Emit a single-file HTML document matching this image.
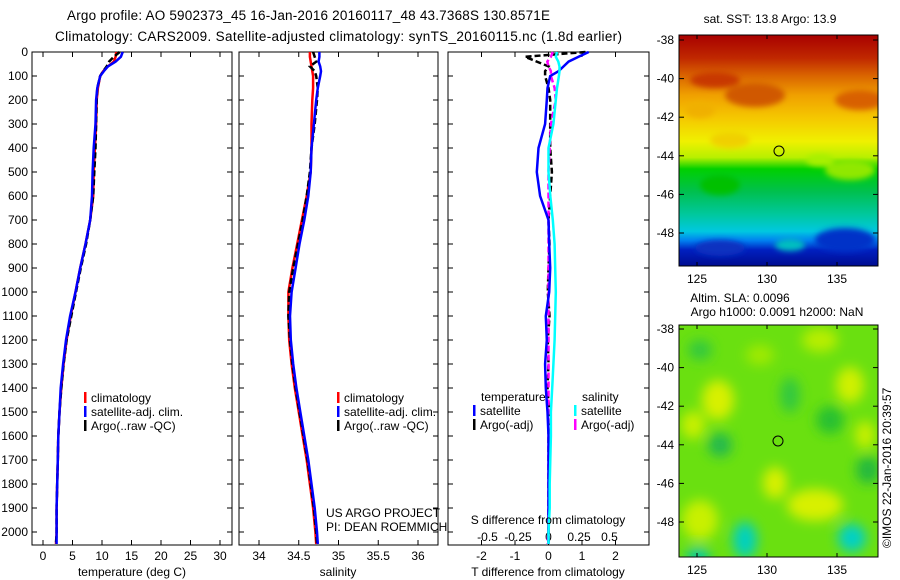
<!DOCTYPE html>
<html><head><meta charset="utf-8"><style>
body{margin:0;background:#fff;}
svg{display:block;font-family:"Liberation Sans",sans-serif;}
</style></head><body>
<svg id="fig" width="900" height="580" viewBox="0 0 900 580">
<defs>
<linearGradient id="sstGrad" x1="0" y1="0" x2="0" y2="1">
<stop offset="0" stop-color="#a80000"/><stop offset="0.1" stop-color="#c02800"/>
<stop offset="0.17" stop-color="#d86000"/><stop offset="0.26" stop-color="#f0a000"/>
<stop offset="0.36" stop-color="#f5c800"/><stop offset="0.46" stop-color="#f0f000"/>
<stop offset="0.53" stop-color="#b8f000"/><stop offset="0.58" stop-color="#00d000"/>
<stop offset="0.68" stop-color="#00c050"/><stop offset="0.78" stop-color="#00c8a0"/>
<stop offset="0.85" stop-color="#00c8e0"/><stop offset="0.89" stop-color="#0080f0"/>
<stop offset="0.93" stop-color="#0020c0"/><stop offset="1" stop-color="#000c90"/>
</linearGradient>
<filter id="blur6"><feGaussianBlur stdDeviation="6"/></filter>
<filter id="blur3"><feGaussianBlur stdDeviation="3"/></filter>
<clipPath id="clipTop"><rect x="679" y="35" width="199" height="231"/></clipPath>
<clipPath id="clipBot"><rect x="679" y="325" width="199" height="232"/></clipPath>
</defs>

<text x="67" y="20" font-size="13.5" textLength="483">Argo profile: AO 5902373_45 16-Jan-2016 20160117_48 43.7368S 130.8571E</text>
<text x="55" y="41" font-size="13.5" textLength="567">Climatology: CARS2009. Satellite-adjusted climatology: synTS_20160115.nc (1.8d earlier)</text>

<g id="p1"></g>
<g id="p2"></g>
<g id="p3"></g>

<g>
<text x="770" y="23" font-size="12" text-anchor="middle">sat. SST: 13.8 Argo: 13.9</text>
<g clip-path="url(#clipTop)">
<rect x="679" y="35" width="199" height="231" fill="url(#sstGrad)"/>
<g filter="url(#blur3)">
<ellipse cx="755" cy="95" rx="30" ry="12" fill="#d05800"/>
<ellipse cx="715" cy="80" rx="25" ry="8" fill="#c83800"/>
<ellipse cx="860" cy="100" rx="25" ry="10" fill="#d86000"/>
<ellipse cx="700" cy="110" rx="15" ry="8" fill="#f0b000"/>
<ellipse cx="730" cy="140" rx="20" ry="8" fill="#f0d000"/>
<ellipse cx="720" cy="185" rx="20" ry="10" fill="#00c000"/>
<ellipse cx="850" cy="170" rx="25" ry="10" fill="#90e800"/>
<ellipse cx="820" cy="160" rx="14" ry="6" fill="#a8f000"/>
<ellipse cx="720" cy="248" rx="25" ry="8" fill="#0830c0"/>
<ellipse cx="845" cy="240" rx="30" ry="12" fill="#0030c8"/>
<ellipse cx="790" cy="245" rx="15" ry="6" fill="#00c0c0"/>
</g>
</g>
<rect x="679" y="35" width="199" height="231" fill="none" stroke="#000"/>
<circle cx="779" cy="151" r="5" fill="none" stroke="#000"/>
</g>

<g>
<text x="740" y="302" font-size="12" text-anchor="middle">Altim. SLA: 0.0096</text>
<text x="777" y="316" font-size="12" text-anchor="middle">Argo h1000: 0.0091 h2000: NaN</text>
<g clip-path="url(#clipBot)">
<rect x="679" y="325" width="199" height="232" fill="#6ae010"/>
<g filter="url(#blur6)">
<ellipse cx="718" cy="400" rx="16" ry="20" fill="#d8f000"/>
<ellipse cx="850" cy="385" rx="14" ry="18" fill="#d0f000"/>
<ellipse cx="820" cy="340" rx="18" ry="12" fill="#b8ee00"/>
<ellipse cx="693" cy="425" rx="12" ry="14" fill="#c8f000"/>
<ellipse cx="775" cy="483" rx="12" ry="16" fill="#d8f000"/>
<ellipse cx="700" cy="520" rx="18" ry="20" fill="#c8f000"/>
<ellipse cx="815" cy="505" rx="28" ry="16" fill="#d8f000"/>
<ellipse cx="865" cy="435" rx="10" ry="14" fill="#c8f000"/>
<ellipse cx="760" cy="355" rx="14" ry="10" fill="#a0ea00"/>
<ellipse cx="720" cy="445" rx="12" ry="12" fill="#20b850"/>
<ellipse cx="830" cy="420" rx="14" ry="14" fill="#28c030"/>
<ellipse cx="790" cy="395" rx="10" ry="18" fill="#30c840"/>
<ellipse cx="868" cy="470" rx="12" ry="14" fill="#20b840"/>
<ellipse cx="700" cy="350" rx="12" ry="10" fill="#30c840"/>
<ellipse cx="745" cy="540" rx="12" ry="18" fill="#00d0c0"/>
<ellipse cx="852" cy="538" rx="14" ry="14" fill="#00d0c8"/>
<ellipse cx="698" cy="556" rx="12" ry="8" fill="#00c8b0"/>
</g>
</g>
<rect x="679" y="325" width="199" height="232" fill="none" stroke="#000"/>
<circle cx="778" cy="441" r="5" fill="none" stroke="#000"/>
</g>
<text transform="translate(891,548) rotate(-90)" font-size="12">©IMOS 22-Jan-2016 20:39:57</text>
<g id="maptick"></g>
</svg>
<script>
const depths = [0,20,40,60,80,100,150,200,300,400,500,600,700,800,900,1000,1100,1200,1300,1400,1500,1600,1700,1800,1900,2000,2050];
const tempClim = [12.4,12.3,12.0,11.0,10.2,9.7,9.3,9.1,9.0,8.8,8.6,8.5,8.0,7.2,6.3,5.5,4.7,4.0,3.5,3.1,2.8,2.6,2.5,2.4,2.3,2.3,2.2];
const tempSat = [13.5,13.2,12.3,11.0,10.3,9.7,9.2,9.0,8.9,8.6,8.4,8.3,8.0,7.2,6.3,5.5,4.6,3.9,3.4,3.0,2.8,2.6,2.5,2.4,2.3,2.3,2.3];
const tempArgo = [13.0,12.0,11.2,10.8,10.2,9.7,9.2,9.1,9.0,8.9,8.7,8.5,8.0,7.3,6.4,5.6,4.8,4.0,3.5,3.1,2.8,2.6,2.5,2.4,2.3,2.3,2.2];
const salClim = [34.64,34.64,34.65,34.66,34.67,34.68,34.68,34.67,34.66,34.66,34.65,34.60,34.54,34.48,34.42,34.37,34.37,34.38,34.41,34.45,34.50,34.55,34.60,34.64,34.68,34.71,34.72];
const salSat = [34.76,34.76,34.75,34.77,34.78,34.77,34.74,34.72,34.69,34.66,34.65,34.62,34.57,34.51,34.46,34.41,34.39,34.40,34.43,34.47,34.52,34.57,34.62,34.66,34.70,34.73,34.74];
const salArgo = [34.68,34.70,34.72,34.64,34.70,34.72,34.74,34.73,34.70,34.66,34.64,34.60,34.55,34.49,34.43,34.38,34.37,34.39,34.42,34.46,34.51,34.56,34.61,34.65,34.69,34.72,34.73];
const tDiffSat = [1.2,0.9,0.6,0.45,0.3,0.05,-0.03,-0.05,-0.1,-0.3,-0.35,-0.25,0,0.02,0.05,0.02,-0.08,-0.05,-0.1,-0.08,-0.03,0,0,0,0,0,0];
const tDiffArgo = [1.1,-0.7,-0.35,0,-0.1,-0.1,0,0.05,0.05,0.05,0.1,0.05,0,0.03,0,-0.02,0.03,-0.02,0,-0.03,0.02,0,0,0,0,0,0];
const sDiffSat = [0.07,0.06,0.08,0.09,0.09,0.085,0.07,0.06,0.04,0,0,0.015,0.035,0.05,0.055,0.06,0.055,0.05,0.04,0.03,0.02,0.02,0.015,0.01,0.01,0,0];
const sDiffArgo = [0.035,0.02,-0.01,0,0.02,0.02,0.05,0.06,0.02,0.01,0,0,0,0,0,0,0,0,0,0,0,0,0,0,0,0,-0.01];
const depthTicks = [0,100,200,300,400,500,600,700,800,900,1000,1100,1200,1300,1400,1500,1600,1700,1800,1900,2000];
const tempTicks = [0,5,10,15,20,25,30];
const salTicks = [34,34.5,35,35.5,36];
const tDiffTicks = [-2,-1,0,1,2];
const sDiffTicks = [-0.5,-0.25,0,0.25,0.5];
const sDiffTickLabels = ['-0.5','-0.25','0','0.25','0.5'];
const latTicks = [-38,-40,-42,-44,-46,-48];
const lonTicks = [125,130,135];

const NS='http://www.w3.org/2000/svg';
function mk(parent,tag,attrs,txt){const e=document.createElementNS(NS,tag);for(const k in attrs)e.setAttribute(k,attrs[k]);if(txt!==undefined)e.textContent=txt;parent.appendChild(e);return e;}
const top0=52, bot=545;
const yD=d=>top0+d*0.24;
function linScale(d0,d1,r0,r1){return v=>r0+(v-d0)*(r1-r0)/(d1-d0);}
const xT=linScale(0,30,43,220);
const xS=linScale(34,36,259,418);
const xTD=linScale(0,1,548.5,582);
const xSD=linScale(0,0.25,548.5,579);

function frame(g,x0,x1,name){
  const r=mk(g,'rect',{x:x0,y:top0,width:x1-x0,height:bot-top0,fill:'none',stroke:'#000','stroke-width':1});
  
  
  depthTicks.forEach(d=>{
    mk(g,'line',{x1:x0,x2:x0+5,y1:yD(d),y2:yD(d),stroke:'#000'});
    mk(g,'line',{x1:x1-5,x2:x1,y1:yD(d),y2:yD(d),stroke:'#000'});
  });
}
function xticks(g,ticks,sc,labels,ly){
  ticks.forEach((t,i)=>{
    const x=sc(t);
    mk(g,'line',{x1:x,x2:x,y1:bot-5,y2:bot,stroke:'#000'});
    mk(g,'line',{x1:x,x2:x,y1:top0,y2:top0+5,stroke:'#000'});
    if(labels){const tx=mk(g,'text',{x:x,y:ly,'font-size':12,'text-anchor':'middle'},labels[i]);
      
      }
  });
}
function line(g,xs,sc,color,name,dash,w){
  const pts=[];
  xs.forEach((v,i)=>{pts.push(sc(v).toFixed(1)+','+yD(depths[i]).toFixed(1));});
  const p=mk(g,'polyline',{points:pts.join(' '),fill:'none',stroke:color,'stroke-width':w||2.5,'stroke-dasharray':dash||'none'});
  
  
}
function legend(g,x,y,color,text){
  mk(g,'rect',{x:x,y:y-10,width:2.5,height:11,fill:color});
  const t=mk(g,'text',{x:x+7,y:y,'font-size':12},text);
  
  
}

const p1=document.getElementById('p1');
frame(p1,32,232,'temperature-panel');
depthTicks.forEach(d=>{const t=mk(p1,'text',{x:28,y:yD(d)+4,'font-size':12,'text-anchor':'end'},String(d));
  
  });
xticks(p1,tempTicks,xT,tempTicks.map(String),560);
line(p1,tempClim,xT,'#ff0000','temp-climatology-line');
line(p1,tempArgo,xT,'#000','temp-argo-line','6,3',2.5);
line(p1,tempSat,xT,'#0000ff','temp-satellite-line');
legend(p1,84,402,'#ff0000','climatology');
legend(p1,84,416,'#0000ff','satellite-adj. clim.');
legend(p1,84,430,'#000','Argo(..raw -QC)');
const l1=mk(p1,'text',{x:132,y:576,'font-size':12,'text-anchor':'middle'},'temperature (deg C)');



const p2=document.getElementById('p2');
frame(p2,239,438,'salinity-panel');
xticks(p2,salTicks,xS,salTicks.map(String),560);
line(p2,salClim,xS,'#ff0000','sal-climatology-line');
line(p2,salArgo,xS,'#000','sal-argo-line','6,3',2.5);
line(p2,salSat,xS,'#0000ff','sal-satellite-line');
legend(p2,337,402,'#ff0000','climatology');
legend(p2,337,416,'#0000ff','satellite-adj. clim.');
legend(p2,337,430,'#000','Argo(..raw -QC)');
mk(p2,'text',{x:326,y:517,'font-size':12},'US ARGO PROJECT');
mk(p2,'text',{x:326,y:531,'font-size':12},'PI: DEAN ROEMMICH');
const l2=mk(p2,'text',{x:338,y:576,'font-size':12,'text-anchor':'middle'},'salinity');



const p3=document.getElementById('p3');
frame(p3,448,649,'difference-panel');
xticks(p3,tDiffTicks,xTD,tDiffTicks.map(String),560);
sDiffTicks.forEach((t,i)=>{const tx=mk(p3,'text',{x:xSD(t),y:541,'font-size':12,'text-anchor':'middle'},sDiffTickLabels[i]);
  
  });
line(p3,tDiffArgo,xTD,'#000','tdiff-argo-line','6,3',2.5);
line(p3,sDiffArgo,xSD,'#ff00ff','sdiff-argo-line','6,3',2.5);
line(p3,tDiffSat,xTD,'#0000ff','tdiff-satellite-line');
line(p3,sDiffSat,xSD,'#00ffff','sdiff-satellite-line');
mk(p3,'text',{x:481,y:401,'font-size':12},'temperature');
mk(p3,'text',{x:582,y:401,'font-size':12},'salinity');
legend(p3,473,415,'#0000ff','satellite');
legend(p3,473,429,'#000','Argo(-adj)');
legend(p3,574,415,'#00ffff','satellite');
legend(p3,574,429,'#ff00ff','Argo(-adj)');
mk(p3,'text',{x:548,y:524,'font-size':12,'text-anchor':'middle'},'S difference from climatology');
const l3=mk(p3,'text',{x:548,y:576,'font-size':12,'text-anchor':'middle'},'T difference from climatology');



const mt=document.getElementById('maptick');
const xLon=linScale(125,135,697,837);
[[35,266,40],[325,557,329]].forEach(([y0,y1,ylat38])=>{
  const yLat=v=>ylat38+(-38-v)*19.3;
  latTicks.forEach(l=>{const y=yLat(l);
    mk(mt,'line',{x1:679,x2:684,y1:y,y2:y,stroke:'#000'});
    mk(mt,'line',{x1:873,x2:878,y1:y,y2:y,stroke:'#000'});
    const t=mk(mt,'text',{x:674,y:y+4,'font-size':12,'text-anchor':'end'},String(l));
    
    });
  lonTicks.forEach(l=>{const x=xLon(l);
    mk(mt,'line',{x1:x,x2:x,y1:y0,y2:y0+4,stroke:'#000'});
    mk(mt,'line',{x1:x,x2:x,y1:y1-4,y2:y1,stroke:'#000'});
    const t=mk(mt,'text',{x:x,y:y1+17,'font-size':12,'text-anchor':'middle'},String(l));
    
    });
});
</script>
</body></html>
